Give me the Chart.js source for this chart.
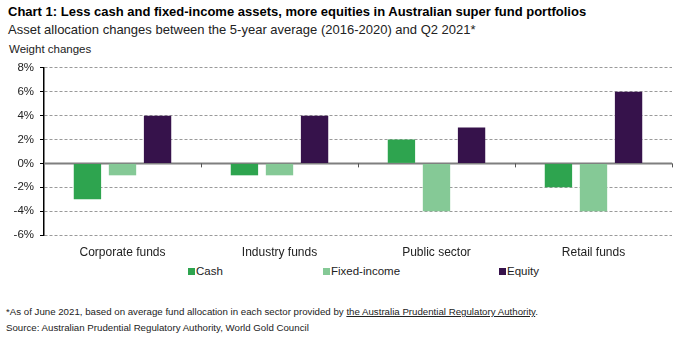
<!DOCTYPE html>
<html lang="en">
<head>
  <meta charset="UTF-8" />
  <title>Australian super fund asset allocation</title>
  <script src="https://cdn.jsdelivr.net/npm/chart.js"></script>
  <style>
    body {
      margin: 0;
      width: 686px;
      height: 342px;
      background: #fff;
      font-family: 'Liberation Sans', Arial, sans-serif;
      color: #000;
      position: relative;
      overflow: hidden;
    }
    .title { position: absolute; left: 8px; top: 4px; font-size: 13px; font-weight: bold; white-space: nowrap; }
    .subtitle { position: absolute; left: 8px; top: 22px; font-size: 13px; color: #222; white-space: nowrap; }
    .ylabel { position: absolute; left: 9px; top: 43px; font-size: 11.5px; color: #222; }
    .chart-box { position: absolute; left: 0; top: 55px; width: 686px; height: 210px; }
    .legend { position: absolute; top: 265px; left: 0; width: 686px; height: 14px; font-size: 11.5px; color: #222; }
    .legend span { position: absolute; white-space: nowrap; }
    .legend i { display: inline-block; width: 7px; height: 7px; margin-right: 1px; vertical-align: 0; }
    .note { position: absolute; left: 6px; font-size: 9.7px; color: #222; white-space: nowrap; }
    .note u { text-decoration: underline; }
  </style>
</head>
<body>

  <div class="title">Chart 1: Less cash and fixed-income assets, more equities in Australian super fund portfolios</div>
  <div class="subtitle">Asset allocation changes between the 5-year average (2016-2020) and Q2 2021*</div>
  <div class="ylabel">Weight changes</div>

  <div class="chart-box"><canvas id="allocChart"></canvas></div>

  <div class="legend" id="legend"></div>

  <div class="note" style="top:306px">*As of June 2021, based on average fund allocation in each sector provided by <u>the Australia Prudential Regulatory Authority</u>.</div>
  <div class="note" style="top:322px">Source: Australian Prudential Regulatory Authority, World Gold Council</div>

  <script>
    const categories = ['Corporate funds', 'Industry funds', 'Public sector', 'Retail funds'];
    const seriesNames = ['Cash', 'Fixed-income', 'Equity'];
    const cash = [-3, -1, 2, -2];
    const fixedIncome = [-1, -1, -4, -4];
    const equity = [4, 4, 3, 6];
    const yTicks = [8, 6, 4, 2, 0, -2, -4, -6];

    const colors = ['#2ea44f', '#85c996', '#36124b'];
    const legendX = [188, 323, 499];

    const font = "'Liberation Sans', Arial, sans-serif";

    // HTML legend, spread out like the original
    const legend = document.getElementById('legend');
    seriesNames.forEach((name, i) => {
      const s = document.createElement('span');
      s.style.left = legendX[i] + 'px';
      s.innerHTML = '<i style="background:' + colors[i] + '"></i>' + name;
      legend.appendChild(s);
    });

    // zero line and small ticks at the category boundaries
    const zeroLine = {
      id: 'zeroLine',
      beforeDatasetsDraw(chart) {
        const { ctx, chartArea, scales } = chart;
        const y0 = scales.y.getPixelForValue(0);
        ctx.save();
        ctx.strokeStyle = '#7f7f7f';
        ctx.lineWidth = 2;
        ctx.beginPath();
        ctx.moveTo(chartArea.left, y0);
        ctx.lineTo(chartArea.right, y0);
        ctx.stroke();
        ctx.lineWidth = 1;
        ctx.strokeStyle = '#555';
        for (let i = 1; i <= categories.length; i++) {
          const x = Math.round(scales.x.getPixelForValue(i - 0.5)) + 0.5;
          ctx.beginPath();
          ctx.moveTo(x, y0);
          ctx.lineTo(x, y0 + 4);
          ctx.stroke();
        }
        ctx.restore();
      }
    };

    new Chart(document.getElementById('allocChart'), {
      type: 'bar',
      data: {
        labels: categories,
        datasets: [
          { label: seriesNames[0], data: cash, backgroundColor: colors[0] },
          { label: seriesNames[1], data: fixedIncome, backgroundColor: colors[1] },
          { label: seriesNames[2], data: equity, backgroundColor: colors[2] }
        ]
      },
      options: {
        responsive: true,
        maintainAspectRatio: false,
        animation: false,
        categoryPercentage: 0.67,
        barPercentage: 0.78,
        layout: { padding: { top: 12, right: 14, left: 0, bottom: 0 } },
        plugins: {
          legend: { display: false },
          tooltip: { enabled: false }
        },
        scales: {
          x: {
            grid: { display: false },
            border: { display: false },
            ticks: { color: '#222', font: { family: font, size: 12 }, padding: 2 },
            afterFit: s => { s.height = 30; }
          },
          y: {
            min: -6,
            max: 8,
            afterBuildTicks: s => { s.ticks = yTicks.map(v => ({ value: v })); },
            afterFit: s => { s.width = 44; },
            ticks: {
              color: '#222',
              font: { family: font, size: 11.5 },
              padding: 6,
              callback: v => v + '%'
            },
            grid: {
              color: ctx => ctx.tick && ctx.tick.value === 0 ? 'rgba(0,0,0,0)' : '#9a9a9a',
              lineWidth: 1,
              tickLength: 4,
              tickColor: '#000',
              tickBorderDash: []
            },
            border: { display: true, color: '#000', width: 1.5, dash: [3, 2] }
          }
        }
      },
      plugins: [zeroLine]
    });
  </script>
</body>
</html>
